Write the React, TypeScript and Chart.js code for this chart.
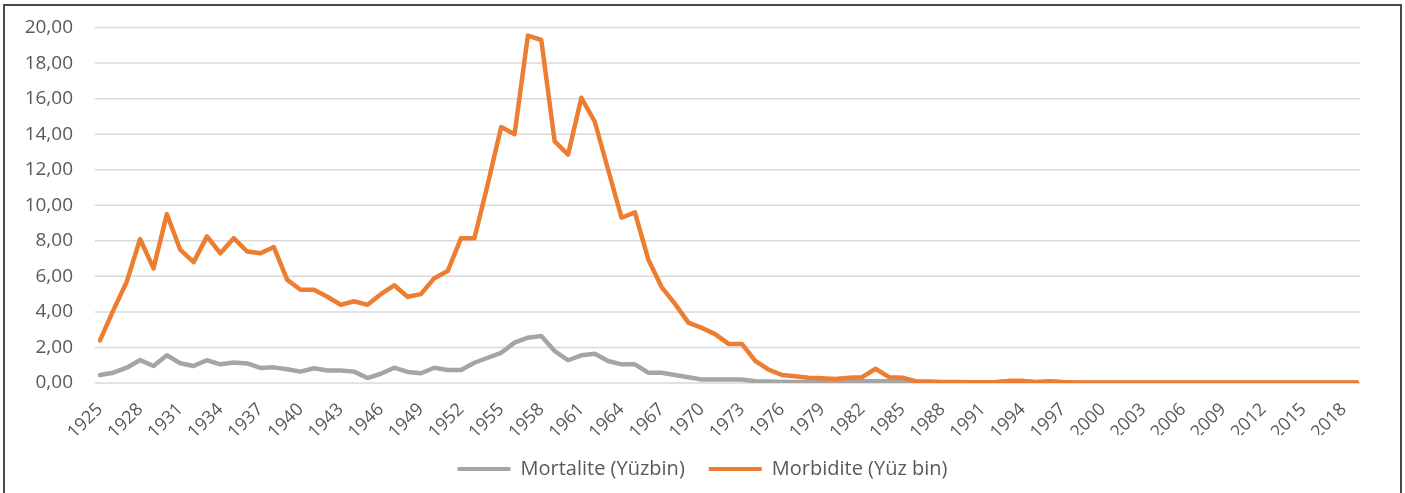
import React, { useEffect, useRef } from "react";
import { Chart, registerables } from "chart.js";

Chart.register(...registerables);

const years: string[] = [];
for (let y = 1925; y <= 2019; y++) years.push(String(y));

const mortalite: number[] = [
  0.45, 0.58, 0.86, 1.29, 0.96, 1.56, 1.11, 0.96, 1.28, 1.05,
  1.15, 1.1, 0.85, 0.88, 0.77, 0.64, 0.83, 0.7, 0.7, 0.64,
  0.28, 0.52, 0.86, 0.62, 0.55, 0.86, 0.73, 0.73, 1.14, 1.42,
  1.7, 2.27, 2.55, 2.64, 1.8, 1.28, 1.56, 1.65, 1.24, 1.05,
  1.05, 0.58, 0.58, 0.45, 0.32, 0.2, 0.2, 0.2, 0.2, 0.1,
  0.08, 0.06, 0.05, 0.05, 0.05, 0.05, 0.08, 0.1, 0.1, 0.1,
  0.08, 0.05, 0.03, 0.02, 0.02, 0.02, 0.02, 0.02, 0.02, 0.02,
  0.02, 0.02, 0.02, 0.02, 0.02, 0.02, 0.02, 0.02, 0.02, 0.02,
  0.02, 0.02, 0.02, 0.02, 0.02, 0.02, 0.02, 0.02, 0.02, 0.02,
  0.02, 0.02, 0.02, 0.02, 0.02,
];

const morbidite: number[] = [
  2.4, 4.1, 5.7, 8.1, 6.45, 9.5, 7.5, 6.8, 8.25, 7.3,
  8.15, 7.4, 7.3, 7.65, 5.8, 5.25, 5.25, 4.85, 4.4, 4.6,
  4.4, 5.0, 5.5, 4.85, 5.0, 5.9, 6.3, 8.15, 8.15, 11.2,
  14.4, 14.0, 19.55, 19.3, 13.6, 12.85, 16.05, 14.7, 12.0, 9.3,
  9.6, 6.95, 5.4, 4.45, 3.4, 3.1, 2.75, 2.2, 2.2, 1.25,
  0.75, 0.45, 0.38, 0.3, 0.27, 0.22, 0.3, 0.33, 0.8, 0.33,
  0.3, 0.1, 0.08, 0.05, 0.05, 0.04, 0.04, 0.05, 0.12, 0.12,
  0.05, 0.1, 0.05, 0.03, 0.03, 0.03, 0.03, 0.03, 0.03, 0.03,
  0.03, 0.03, 0.03, 0.03, 0.03, 0.03, 0.03, 0.03, 0.03, 0.03,
  0.03, 0.03, 0.03, 0.03, 0.03,
];

const seriesNames = ["Mortalite (Yüzbin)", "Morbidite (Yüz bin)"];
const GRAY = "#A5A5A5";
const ORANGE = "#ED7D31";
const TEXT = "#595959";
const GRID = "#D9D9D9";
const FONT = "'Open Sans', sans-serif";

const gridPlugin = {
  id: "extGrid",
  beforeDatasetsDraw(chart: any) {
    const { ctx, chartArea, scales } = chart;
    const y = scales.y;
    ctx.save();
    ctx.strokeStyle = GRID;
    ctx.lineWidth = 1.5;
    y.ticks.forEach((t: any) => {
      const py = y.getPixelForValue(t.value);
      ctx.beginPath();
      ctx.moveTo(chartArea.left - 5, py);
      ctx.lineTo(chartArea.right + 3, py);
      ctx.stroke();
    });
    ctx.restore();
  },
};

// centre the legend on the whole canvas rather than on the padded area
const legendShift = {
  id: "legendShift",
  afterLayout(chart: any) {
    const lg = chart.legend;
    if (!lg) return;
    const shift = (chart.width - (lg.left + lg.right)) / 2;
    lg.left += shift;
    lg.right += shift;
  },
};

export default function App() {
  const ref = useRef<HTMLCanvasElement | null>(null);

  useEffect(() => {
    if (!ref.current) return;
    const chart = new Chart(ref.current, {
      type: "line",
      data: {
        labels: years,
        datasets: [
          {
            label: seriesNames[0],
            data: mortalite,
            borderColor: GRAY,
            backgroundColor: GRAY,
            borderWidth: 4.5,
            pointRadius: 0,
            tension: 0,
            borderJoinStyle: "round",
            borderCapStyle: "round",
            order: 1,
          },
          {
            label: seriesNames[1],
            data: morbidite,
            borderColor: ORANGE,
            backgroundColor: ORANGE,
            borderWidth: 4.5,
            pointRadius: 0,
            tension: 0,
            borderJoinStyle: "round",
            borderCapStyle: "round",
            order: 0,
          },
        ],
      },
      plugins: [gridPlugin, legendShift],
      options: {
        responsive: false,
        animation: false,
        layout: { padding: { left: 0, right: 48, top: 0, bottom: 4 } },
        plugins: {
          tooltip: { enabled: false },
          legend: {
            position: "bottom",
            labels: {
              boxWidth: 53,
              boxHeight: 4,
              padding: 24,
              color: TEXT,
              font: { family: FONT, size: 20 },
              sort: (a: any, b: any) => a.datasetIndex - b.datasetIndex,
              generateLabels: (c: any) =>
                Chart.defaults.plugins.legend.labels
                  .generateLabels(c)
                  .map((l: any) => ({ ...l, lineWidth: 0 })),
            },
          },
        },
        scales: {
          x: {
            offset: false,
            grid: { display: false },
            border: { display: false },
            ticks: {
              autoSkip: false,
              minRotation: 45,
              maxRotation: 45,
              color: TEXT,
              padding: 8,
              font: { family: FONT, size: 18 },
              callback: (_v: any, i: number) => (i % 3 === 0 ? years[i] : ""),
            },
            afterFit: (s: any) => {
              s.height = 52;
            },
          },
          y: {
            min: 0,
            max: 20,
            grid: { display: false },
            border: { display: false },
            ticks: {
              stepSize: 2,
              padding: 19,
              color: TEXT,
              font: { family: FONT, size: 19, lineHeight: 0.9 },
              callback: (v: any) => Number(v).toFixed(2).replace(".", ","),
            },
            afterFit: (s: any) => {
              s.width = 100;
            },
          },
        },
      },
    });
    return () => chart.destroy();
  }, []);

  return (
    <div
      style={{
        position: "fixed",
        left: 0,
        top: 0,
        width: 1405,
        height: 493,
        background: "#fff",
        overflow: "hidden",
      }}
    >
      <div
        style={{
          position: "absolute",
          left: 3,
          top: 4,
          width: 1399,
          height: 520,
          border: "2px solid #4a4a4a",
          boxSizing: "border-box",
        }}
      />
      <canvas
        ref={ref}
        width={1405}
        height={493}
        style={{ position: "absolute", left: 0, top: 0 }}
      />
    </div>
  );
}
